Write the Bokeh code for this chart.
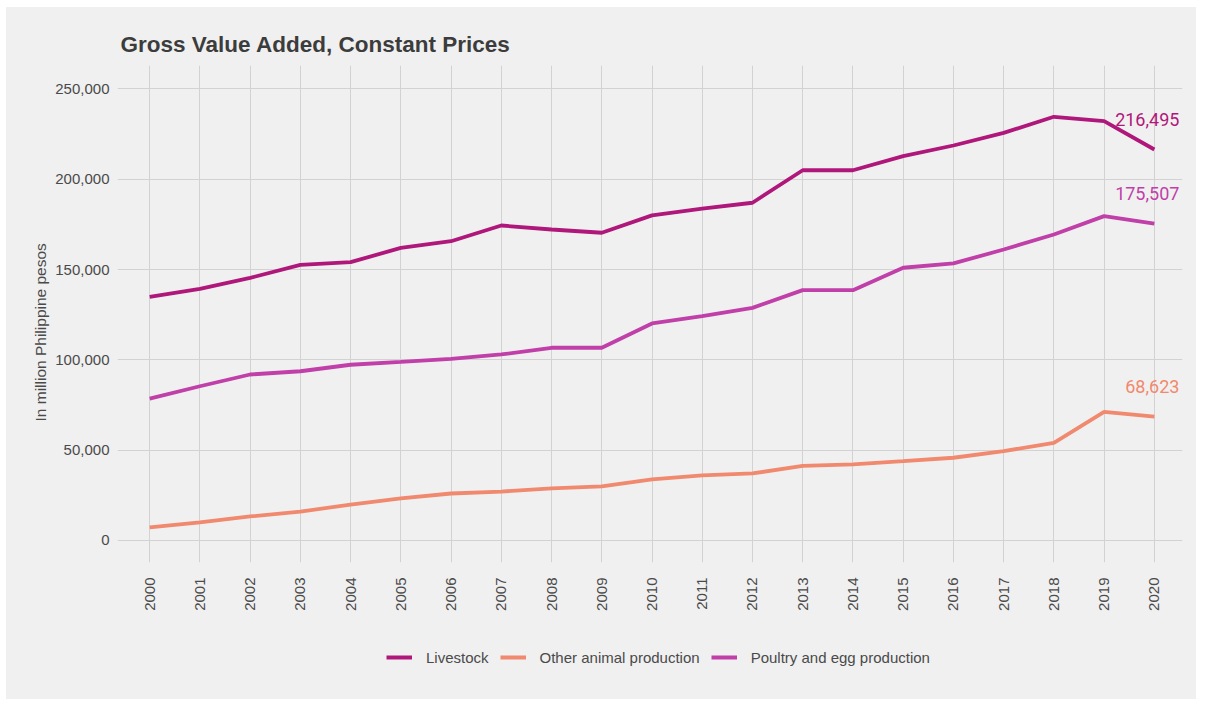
from bokeh.plotting import figure
from bokeh.layouts import column
from bokeh.models import Range1d, Legend, LegendItem, FixedTicker, NumeralTickFormatter, ColumnDataSource, Title
from bokeh.embed import file_html
from bokeh.resources import INLINE
from bokeh.core.properties import value
import math

years = list(range(2000, 2021))
livestock = [134900, 139300, 145400, 152600, 154100, 162000, 165700, 174400, 172200, 170400,
             180000, 183700, 187000, 205000, 205000, 212800, 218700, 225700, 234600, 232200, 216495]
other = [7200, 10000, 13300, 16000, 19900, 23300, 26000, 27100, 28800, 29900,
         33800, 36000, 37100, 41300, 42100, 43900, 45800, 49450, 54100, 71260, 68623]
poultry = [78500, 85400, 91900, 93700, 97300, 98900, 100600, 103000, 106700, 106700,
           120150, 124200, 128800, 138600, 138600, 151000, 153400, 161100, 169400, 179600, 175507]
series_names = ["Livestock", "Other animal production", "Poultry and egg production"]
colors = ["#b0177a", "#f0896e", "#c03fa8"]
y_ticks = [0, 50000, 100000, 150000, 200000, 250000]

BG = "#f0f0f0"
W = 1190
p = figure(width=W, height=617, output_backend="svg", toolbar_location=None,
           x_range=Range1d(1999.36, 2020.56), y_range=Range1d(-12200, 263000),
           min_border_left=111, min_border_right=14, min_border_top=58, min_border_bottom=62)
p.background_fill_color = None
p.border_fill_color = BG
p.outline_line_color = None

p.title.text = "Gross Value Added, Constant Prices"
p.title.text_font = "Liberation Sans"
p.title.text_font_size = "22.5px"
p.title.text_font_style = "bold"
p.title.text_color = "#3c3c3c"
p.title.offset = 3
p.title.standoff = 18

p.xgrid.ticker = FixedTicker(ticks=years)
p.ygrid.ticker = FixedTicker(ticks=y_ticks)
for g in (p.xgrid, p.ygrid):
    g.grid_line_color = "#d2d2d2"
    g.grid_line_width = 1

p.xaxis.ticker = FixedTicker(ticks=years)
p.xaxis.major_label_orientation = math.pi / 2
p.yaxis.ticker = FixedTicker(ticks=y_ticks)
p.yaxis.formatter = NumeralTickFormatter(format="0,0")
for ax in (p.xaxis, p.yaxis):
    ax.axis_line_color = None
    ax.major_tick_line_color = None
    ax.minor_tick_line_color = None
    ax.major_tick_out = 0
    ax.major_tick_in = 0
    ax.minor_tick_out = 0
    ax.major_label_text_font = "Liberation Sans"
    ax.major_label_text_font_size = "15px"
    ax.major_label_text_color = "#4a4a4a"
p.xaxis.major_label_standoff = 15
p.yaxis.major_label_standoff = 8

# y-axis title, placed slightly below the frame's middle as in the original
ytitle = Title(text="In million Philippine pesos", align="left", offset=141, standoff=8,
               text_font="Liberation Sans", text_font_size="15.5px",
               text_font_style="normal", text_color="#4a4a4a")
p.add_layout(ytitle, "left")

# legend strip below the main chart
lf = figure(width=W, height=75, output_backend="svg", toolbar_location=None,
            x_range=Range1d(0, 1), y_range=Range1d(0, 1),
            x_axis_location=None, y_axis_location=None,
            min_border=0, min_border_left=0, min_border_right=0,
            min_border_top=0, min_border_bottom=0)
lf.background_fill_color = None
lf.border_fill_color = BG
lf.outline_line_color = None
lf.xgrid.visible = False
lf.ygrid.visible = False

items = []
for name, vals, c in zip(series_names, [livestock, other, poultry], colors):
    p.line(years, vals, line_color=c, line_width=3.8)
    src = ColumnDataSource(dict(x=[years[-1]], y=[vals[-1]], t=["{:,}".format(vals[-1])]))
    p.text(x="x", y="y", text="t", source=src, x_offset=25, y_offset=-30,
           text_align="right", text_baseline="middle", text_color=c,
           text_font=value("Roboto"), text_font_size="18px")
    # same series in the legend strip (outside its visible range), used for legend glyphs
    r2 = lf.line(years, vals, line_color=c, line_width=4)
    items.append(LegendItem(label=name, renderers=[r2]))

legend = Legend(items=items, orientation="horizontal", location=(269, 32))
legend.background_fill_alpha = 0
legend.border_line_color = None
legend.label_text_font = "Liberation Sans"
legend.label_text_font_size = "15px"
legend.label_text_color = "#4a4a4a"
legend.glyph_width = 26
legend.glyph_height = 20
legend.label_standoff = 14
legend.spacing = 11
legend.padding = 10
lf.add_layout(legend, "center")

layout = column(p, lf, spacing=0)
layout.margin = (7, 8, 3, 6)
layout.styles = {"background-color": BG}

open("out.html", "w").write(file_html(layout, INLINE))
